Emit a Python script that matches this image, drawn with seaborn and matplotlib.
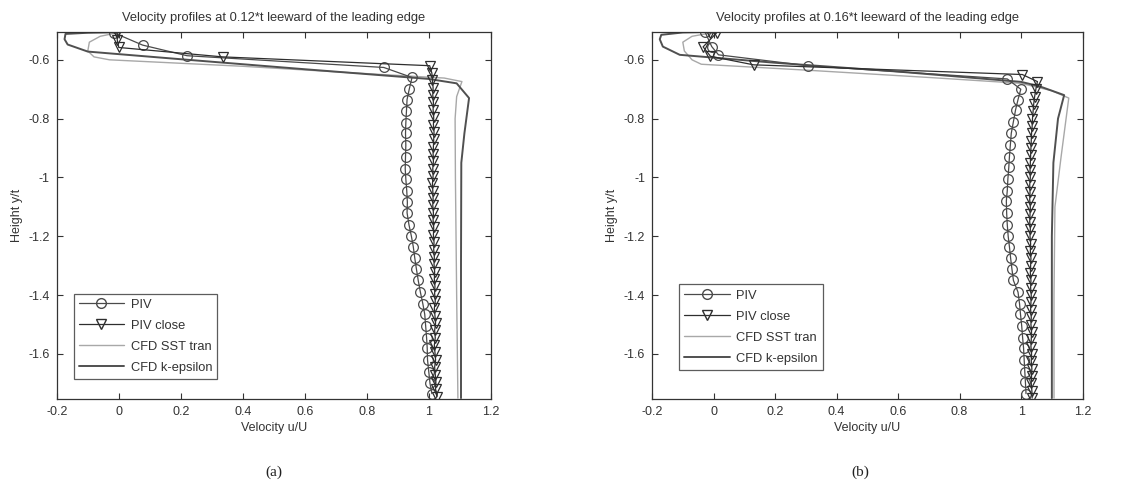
import numpy as np
import pandas as pd
import seaborn as sns
import matplotlib.pyplot as plt
from matplotlib.lines import Line2D

sns.set_style("ticks")
plt.rcParams["font.family"] = ["Liberation Sans", "DejaVu Sans"]
plt.rcParams["xtick.direction"] = "in"
plt.rcParams["ytick.direction"] = "in"

# ---- panel (a): 0.12*t ----
piv_a_x = [-0.016, 0.077, 0.22, 0.855,
           0.946, 0.937, 0.930, 0.928, 0.926, 0.925, 0.926, 0.925, 0.924, 0.926,
           0.929, 0.931, 0.930, 0.936, 0.944, 0.950, 0.955, 0.960, 0.966, 0.973,
           0.981, 0.987, 0.990, 0.993, 0.995, 0.996, 1.000, 1.004, 1.010]
piv_a_y = [-0.508, -0.55, -0.586, -0.626,
           -0.66, -0.70, -0.735, -0.775, -0.815, -0.85, -0.89, -0.93, -0.97, -1.005,
           -1.045, -1.085, -1.12, -1.16, -1.2, -1.235, -1.275, -1.31, -1.35, -1.39,
           -1.43, -1.465, -1.505, -1.545, -1.58, -1.62, -1.66, -1.70, -1.735]

close_a_x = [-0.005, -0.005, 0.0, 0.335, 1.003,
             1.010, 1.012, 1.014, 1.013, 1.015, 1.014, 1.016, 1.015, 1.017, 1.016,
             1.015, 1.014, 1.015, 1.013, 1.014, 1.012, 1.013, 1.014, 1.013, 1.015,
             1.014, 1.016, 1.015, 1.017, 1.016, 1.018, 1.017, 1.019, 1.018, 1.020,
             1.019, 1.021, 1.018, 1.020, 1.022, 1.019, 1.021, 1.018, 1.020, 1.022,
             1.019, 1.021, 1.023, 1.022, 1.026]
close_a_y = [-0.51, -0.532, -0.558, -0.59, -0.62,
             -0.645, -0.67, -0.695, -0.72, -0.745, -0.77, -0.795, -0.82, -0.845, -0.87,
             -0.895, -0.92, -0.945, -0.97, -0.995, -1.02, -1.045, -1.07, -1.095, -1.12,
             -1.145, -1.17, -1.195, -1.22, -1.245, -1.27, -1.295, -1.32, -1.345, -1.37,
             -1.395, -1.42, -1.445, -1.47, -1.495, -1.52, -1.545, -1.57, -1.595, -1.62,
             -1.645, -1.67, -1.695, -1.72, -1.745]

sst_a_x = [0.0, -0.06, -0.095, -0.1, -0.08, -0.03, 0.4, 0.8, 1.05, 1.107, 1.09, 1.085, 1.086, 1.09, 1.094]
sst_a_y = [-0.507, -0.52, -0.54, -0.57, -0.59, -0.6, -0.622, -0.647, -0.662, -0.674, -0.725, -0.8, -1.0, -1.4, -1.75]

keps_a_x = [0.0, -0.1, -0.172, -0.175, -0.165, -0.1, 0.2, 0.6, 1.0, 1.09, 1.13, 1.115, 1.105, 1.104, 1.104]
keps_a_y = [-0.506, -0.508, -0.512, -0.53, -0.548, -0.572, -0.598, -0.632, -0.665, -0.68, -0.73, -0.85, -0.95, -1.3, -1.75]

# ---- panel (b): 0.16*t ----
piv_b_x = [-0.027, -0.006, 0.016, 0.307, 0.955, 0.999,
           0.990, 0.982, 0.975, 0.968, 0.965, 0.962, 0.960, 0.957, 0.955, 0.952,
           0.953, 0.955, 0.958, 0.962, 0.966, 0.970, 0.975, 0.990, 0.995, 0.998,
           1.002, 1.005, 1.008, 1.010, 1.012, 1.014, 1.016]
piv_b_y = [-0.507, -0.555, -0.583, -0.62, -0.665, -0.70,
           -0.735, -0.77, -0.81, -0.85, -0.89, -0.93, -0.965, -1.005, -1.045, -1.08,
           -1.12, -1.16, -1.2, -1.235, -1.275, -1.31, -1.35, -1.39, -1.43, -1.465,
           -1.505, -1.545, -1.58, -1.62, -1.66, -1.695, -1.735]

close_b_x = [-0.01, 0.01, -0.034, -0.01, 0.13, 1.004, 1.053, 1.048,
             1.044, 1.041, 1.039, 1.037, 1.036, 1.034, 1.033, 1.032, 1.031, 1.030,
             1.029, 1.030, 1.028, 1.029, 1.028, 1.030, 1.029, 1.028, 1.030, 1.029,
             1.031, 1.030, 1.032, 1.031, 1.030, 1.032, 1.031, 1.033, 1.032, 1.031,
             1.033, 1.032, 1.034, 1.033, 1.032, 1.034, 1.033, 1.035, 1.034, 1.033,
             1.035, 1.036]
close_b_y = [-0.508, -0.508, -0.556, -0.588, -0.617, -0.65, -0.674, -0.70,
             -0.725, -0.75, -0.775, -0.80, -0.825, -0.85, -0.875, -0.90, -0.925, -0.95,
             -0.975, -1.0, -1.025, -1.05, -1.075, -1.10, -1.125, -1.15, -1.175, -1.20,
             -1.225, -1.25, -1.275, -1.30, -1.325, -1.35, -1.375, -1.40, -1.425, -1.45,
             -1.475, -1.50, -1.525, -1.55, -1.575, -1.60, -1.625, -1.65, -1.675, -1.70,
             -1.725, -1.75]

sst_b_x = [0.0, -0.07, -0.1, -0.095, -0.07, -0.04, 0.3, 0.7, 1.0, 1.1, 1.155, 1.13, 1.11, 1.107, 1.107]
sst_b_y = [-0.507, -0.52, -0.54, -0.57, -0.6, -0.615, -0.635, -0.66, -0.68, -0.705, -0.73, -0.93, -1.1, -1.4, -1.75]

keps_b_x = [0.0, -0.1, -0.17, -0.175, -0.165, -0.11, 0.2, 0.6, 1.0, 1.06, 1.14, 1.12, 1.105, 1.10, 1.10]
keps_b_y = [-0.505, -0.507, -0.515, -0.53, -0.555, -0.583, -0.61, -0.64, -0.675, -0.69, -0.72, -0.8, -0.95, -1.2, -1.75]

titles = ["Velocity profiles at 0.12*t leeward of the leading edge",
          "Velocity profiles at 0.16*t leeward of the leading edge"]
captions = ["(a)", "(b)"]
labels = ["PIV", "PIV close", "CFD SST tran", "CFD k-epsilon"]
xticks = [-0.2, 0, 0.2, 0.4, 0.6, 0.8, 1, 1.2]
yticks = [-1.6, -1.4, -1.2, -1, -0.8, -0.6]

c_piv = "#4a4a4a"
c_close = "#2e2e2e"
c_sst = "#a8a8a8"
c_keps = "#505050"

fig = plt.figure(figsize=(11.36, 4.83), dpi=100)
ax_a = fig.add_axes([0.050, 0.174, 0.382, 0.760])
ax_b = fig.add_axes([0.574, 0.174, 0.379, 0.760])

panels = [
    (ax_a, piv_a_x, piv_a_y, close_a_x, close_a_y, sst_a_x, sst_a_y, keps_a_x, keps_a_y, (0.039, 0.054)),
    (ax_b, piv_b_x, piv_b_y, close_b_x, close_b_y, sst_b_x, sst_b_y, keps_b_x, keps_b_y, (0.063, 0.079)),
]

for i, (ax, px, py, cx, cy, sx, sy, kx, ky, leg_pos) in enumerate(panels):
    sns.lineplot(x=sx, y=sy, ax=ax, sort=False, estimator=None, color=c_sst, lw=1.0)
    sns.lineplot(x=kx, y=ky, ax=ax, sort=False, estimator=None, color=c_keps, lw=1.4)
    sns.lineplot(x=px, y=py, ax=ax, sort=False, estimator=None, color=c_piv, lw=0.9,
                 marker="o", markersize=7, markerfacecolor="none",
                 markeredgecolor=c_piv, markeredgewidth=0.9)
    sns.lineplot(x=cx, y=cy, ax=ax, sort=False, estimator=None, color=c_close, lw=0.9,
                 marker="v", markersize=7, markerfacecolor="none",
                 markeredgecolor=c_close, markeredgewidth=0.9)

    ax.set_xlim(-0.2, 1.2)
    ax.set_ylim(-1.753, -0.505)
    ax.set_xticks(xticks)
    ax.set_xticklabels(["-0.2", "0", "0.2", "0.4", "0.6", "0.8", "1", "1.2"])
    ax.set_yticks(yticks)
    ax.set_yticklabels(["-1.6", "-1.4", "-1.2", "-1", "-0.8", "-0.6"])
    ax.tick_params(axis="both", which="both", direction="in", top=True, right=True,
                   length=4, width=0.8, labelsize=9, colors="#333333", pad=5)
    for sp in ax.spines.values():
        sp.set_color("#333333")
        sp.set_linewidth(0.9)
    ax.set_title(titles[i], fontsize=9.3, color="#333333", pad=8)
    ax.set_xlabel("Velocity u/U", fontsize=9, color="#333333", labelpad=3)
    ax.set_ylabel("Height y/t", fontsize=9, color="#333333", labelpad=4)

    handles = [
        Line2D([], [], color=c_piv, lw=0.9, marker="o", markersize=7,
               markerfacecolor="none", markeredgecolor=c_piv),
        Line2D([], [], color=c_close, lw=0.9, marker="v", markersize=7,
               markerfacecolor="none", markeredgecolor=c_close),
        Line2D([], [], color=c_sst, lw=1.0),
        Line2D([], [], color=c_keps, lw=1.4),
    ]
    leg = ax.legend(handles, labels, loc="lower left", bbox_to_anchor=leg_pos,
                    fontsize=9.3, frameon=True, fancybox=False, handlelength=3.5,
                    labelspacing=0.7, borderpad=0.4, handletextpad=0.5,
                    borderaxespad=0.0)
    leg.get_frame().set_edgecolor("#333333")
    leg.get_frame().set_linewidth(0.9)
    for t in leg.get_texts():
        t.set_color("#333333")

fig.text(0.241, 0.015, captions[0], fontsize=11, family=["Liberation Serif", "DejaVu Serif"],
         ha="center", color="#222222")
fig.text(0.757, 0.015, captions[1], fontsize=11, family=["Liberation Serif", "DejaVu Serif"],
         ha="center", color="#222222")

fig.savefig("out.png", dpi=100)
